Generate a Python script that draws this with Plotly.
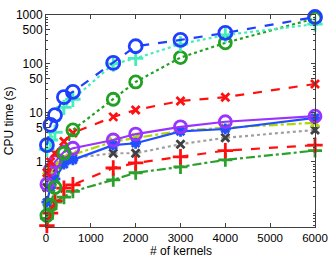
import plotly.graph_objects as go

kernels = [20, 100, 200, 400, 600, 1500, 2000, 3000, 4000, 6000]

blue_dash_circ = [2.2, 5.7, 9.0, 21, 27, 105, 230, 310, 430, 910]
cyan_dot_plus = [1.8, 2.8, 4.0, 13, 19, 100, 130, 255, 390, 650]
green_dot_circ = [0.08, 0.13, 0.3, 1.5, 4.5, 19, 43, 135, 270, 850]
red_dash_x = [0.6, 1.0, 1.5, 2.6, 3.9, 8.3, 11.5, 17.6, 21, 39]
purple_solid_circ = [0.35, 0.7, 1.0, 1.6, 1.9, 2.8, 3.7, 5.2, 6.6, 8.6]
blue_solid_star = [0.15, 0.3, 0.45, 0.9, 1.1, 2.2, 2.4, 4.2, 4.7, 7.9]
ygreen_dashdot_x = [0.5, 0.65, 0.85, 1.2, 1.4, 2.6, 3.1, 4.3, 5.0, 6.3]
gray_dot_x = [0.3, 0.5, 0.7, 1.1, 1.2, 1.5, 1.5, 2.3, 3.1, 4.5]
red_dash_plus = [0.05, 0.09, 0.16, 0.29, 0.34, 0.75, 0.95, 1.27, 1.7, 2.2]
green_dashdot_plus = [0.07, 0.11, 0.15, 0.19, 0.25, 0.43, 0.6, 0.79, 1.1, 1.7]

x_title = "# of kernels"
y_title = "CPU time (s)"

series = [
    (green_dashdot_plus, "#2ca02c", "dashdot", "cross-thin", 10, "#2ca02c"),
    (red_dash_plus, "#ff1010", "dash", "cross-thin", 11, "#ff1010"),
    (gray_dot_x, "#a0a0a0", "dot", "x-thin", 8, "#404040"),
    (ygreen_dashdot_x, "#b0d800", "dashdot", "x-thin", 8, "#b0d800"),
    (blue_solid_star, "#1f4fff", "solid", "asterisk", 9, "#1f4fff"),
    (purple_solid_circ, "#9933ff", "solid", "circle-open", 12, "#9933ff"),
    (red_dash_x, "#ff1010", "dash", "x-thin", 8, "#ff1010"),
    (green_dot_circ, "#22a022", "dot", "circle-open", 12, "#22a022"),
    (cyan_dot_plus, "#44eebb", "dot", "cross-thin", 11, "#44eebb"),
    (blue_dash_circ, "#1f3fff", "dash", "circle-open", 13, "#1f3fff"),
]

fig = go.Figure()
for ys, lc, dash, sym, sz, mc in series:
    fig.add_trace(go.Scatter(
        x=kernels, y=ys, mode="lines+markers", cliponaxis=False,
        line=dict(color=lc, width=2.2, dash=dash),
        marker=dict(symbol=sym, size=sz, color=mc,
                    line=dict(color=mc, width=2.8)),
        showlegend=False,
    ))

minor_vals = []
for dec in [0.01, 0.1, 1, 10, 100]:
    for m in range(2, 10):
        minor_vals.append(m * dec)

fig.update_layout(
    width=332, height=256,
    margin=dict(l=46, r=17, t=15, b=29),
    paper_bgcolor="white", plot_bgcolor="white",
    font=dict(family="Liberation Sans, Arial, sans-serif", size=12, color="black"),
    xaxis=dict(
        range=[0, 6000], tickvals=[0, 1000, 2000, 3000, 4000, 5000, 6000],
        ticks="inside", ticklen=4, tickcolor="#404040", automargin=False,
        tickfont=dict(size=11.5),
        showline=True, linecolor="#404040", linewidth=1, mirror="ticks",
        showgrid=False, zeroline=False,
    ),
    yaxis=dict(
        type="log", range=[-1.33, 3.0], automargin=False,
        tickvals=[1, 5, 10, 50, 100, 500, 1000],
        ticktext=["1", "5", "10", "50", "100", "500", "1000"],
        ticks="inside", ticklen=4, tickcolor="#404040",
        minor=dict(tickvals=minor_vals, ticks="inside", ticklen=2, tickcolor="#404040"),
        showline=True, linecolor="#404040", linewidth=1, mirror="ticks",
        showgrid=False, zeroline=False,
    ),
    annotations=[
        dict(text=x_title, xref="paper", yref="paper", x=0.5, y=-0.112,
             xanchor="center", yanchor="middle", showarrow=False, font=dict(size=12)),
        dict(text=y_title, xref="paper", yref="paper", x=-0.137, y=0.5,
             xanchor="center", yanchor="middle", showarrow=False, textangle=-90,
             font=dict(size=12)),
    ],
)

fig.write_html("out.html", config={"displayModeBar": False},
               post_script="document.body.style.margin='0';document.body.style.overflow='hidden';")
